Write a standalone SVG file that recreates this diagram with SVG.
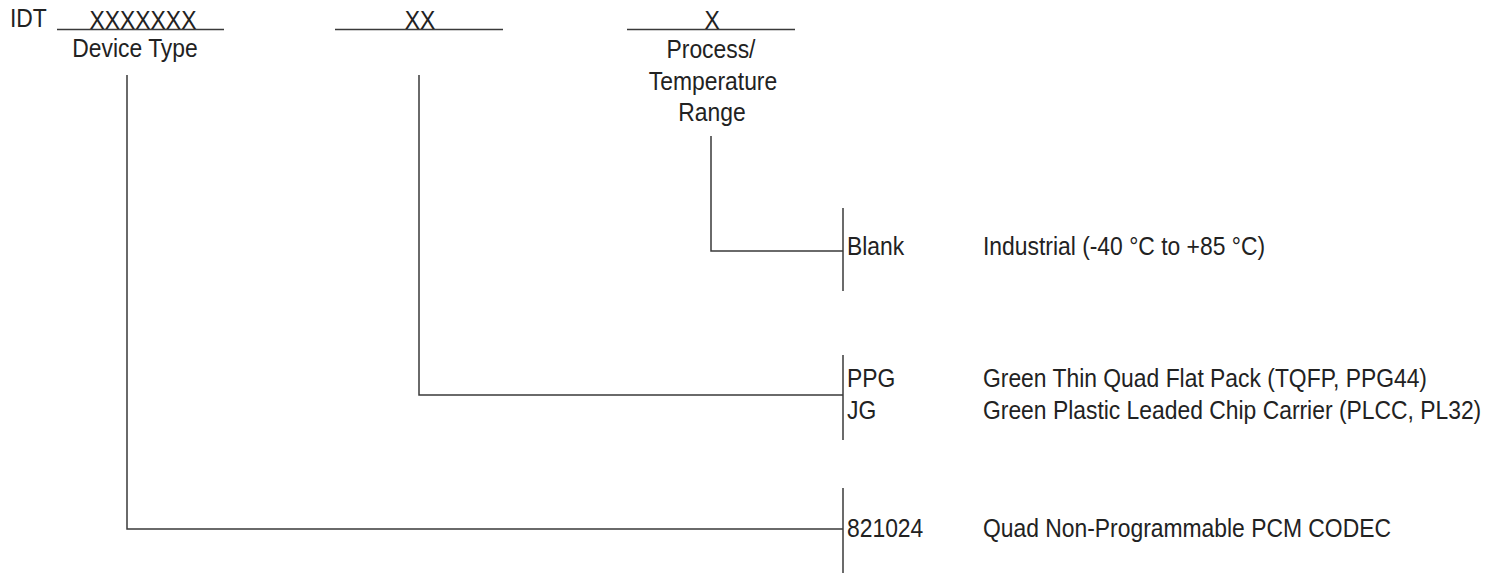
<svg xmlns="http://www.w3.org/2000/svg" width="1497" height="573" viewBox="0 0 1497 573">
<style>
text{font-family:"Liberation Sans",Arial,sans-serif;font-size:25px;fill:#222}
.c{text-anchor:middle}
line,polyline{stroke:#3a3a3a;stroke-width:1.5;fill:none}
</style>
<rect width="1497" height="573" fill="#fff"/>
<g id="header">
<text transform="translate(10,27) scale(0.915,1)">IDT</text>
<line x1="57" y1="29.5" x2="224" y2="29.5"/>
<text class="c" transform="translate(143,29) scale(0.915,1)">XXXXXXX</text>
<text class="c" transform="translate(135,57) scale(0.915,1)">Device Type</text>
<line x1="335" y1="29.5" x2="503" y2="29.5"/>
<text class="c" transform="translate(420,29) scale(0.915,1)">XX</text>
<line x1="627" y1="29.5" x2="795" y2="29.5"/>
<text class="c" transform="translate(712,29) scale(0.915,1)">X</text>
<text class="c" transform="translate(711,58) scale(0.915,1)">Process/</text>
<text class="c" transform="translate(713,90) scale(0.915,1)">Temperature</text>
<text class="c" transform="translate(712,121) scale(0.915,1)">Range</text>
</g>
<g id="connectors">
<polyline points="127,75 127,529 843,529"/>
<polyline points="419,75 419,395 843,395"/>
<polyline points="711,136 711,251 843,251"/>
</g>
<g id="node-temp">
<line x1="843" y1="208" x2="843" y2="291"/>
<text transform="translate(847,255) scale(0.915,1)">Blank</text>
<text transform="translate(983,255) scale(0.915,1)">Industrial (-40 °C to +85 °C)</text>
</g>
<g id="node-package">
<line x1="843" y1="355" x2="843" y2="440"/>
<text transform="translate(847,387) scale(0.915,1)">PPG</text>
<text transform="translate(983,387) scale(0.915,1)">Green Thin Quad Flat Pack (TQFP, PPG44)</text>
<text transform="translate(847,419) scale(0.915,1)">JG</text>
<text transform="translate(983,419) scale(0.915,1)">Green Plastic Leaded Chip Carrier (PLCC, PL32)</text>
</g>
<g id="node-device">
<line x1="843" y1="488" x2="843" y2="573"/>
<text transform="translate(847,537) scale(0.915,1)">821024</text>
<text transform="translate(983,537) scale(0.915,1)">Quad Non-Programmable PCM CODEC</text>
</g>
</svg>
